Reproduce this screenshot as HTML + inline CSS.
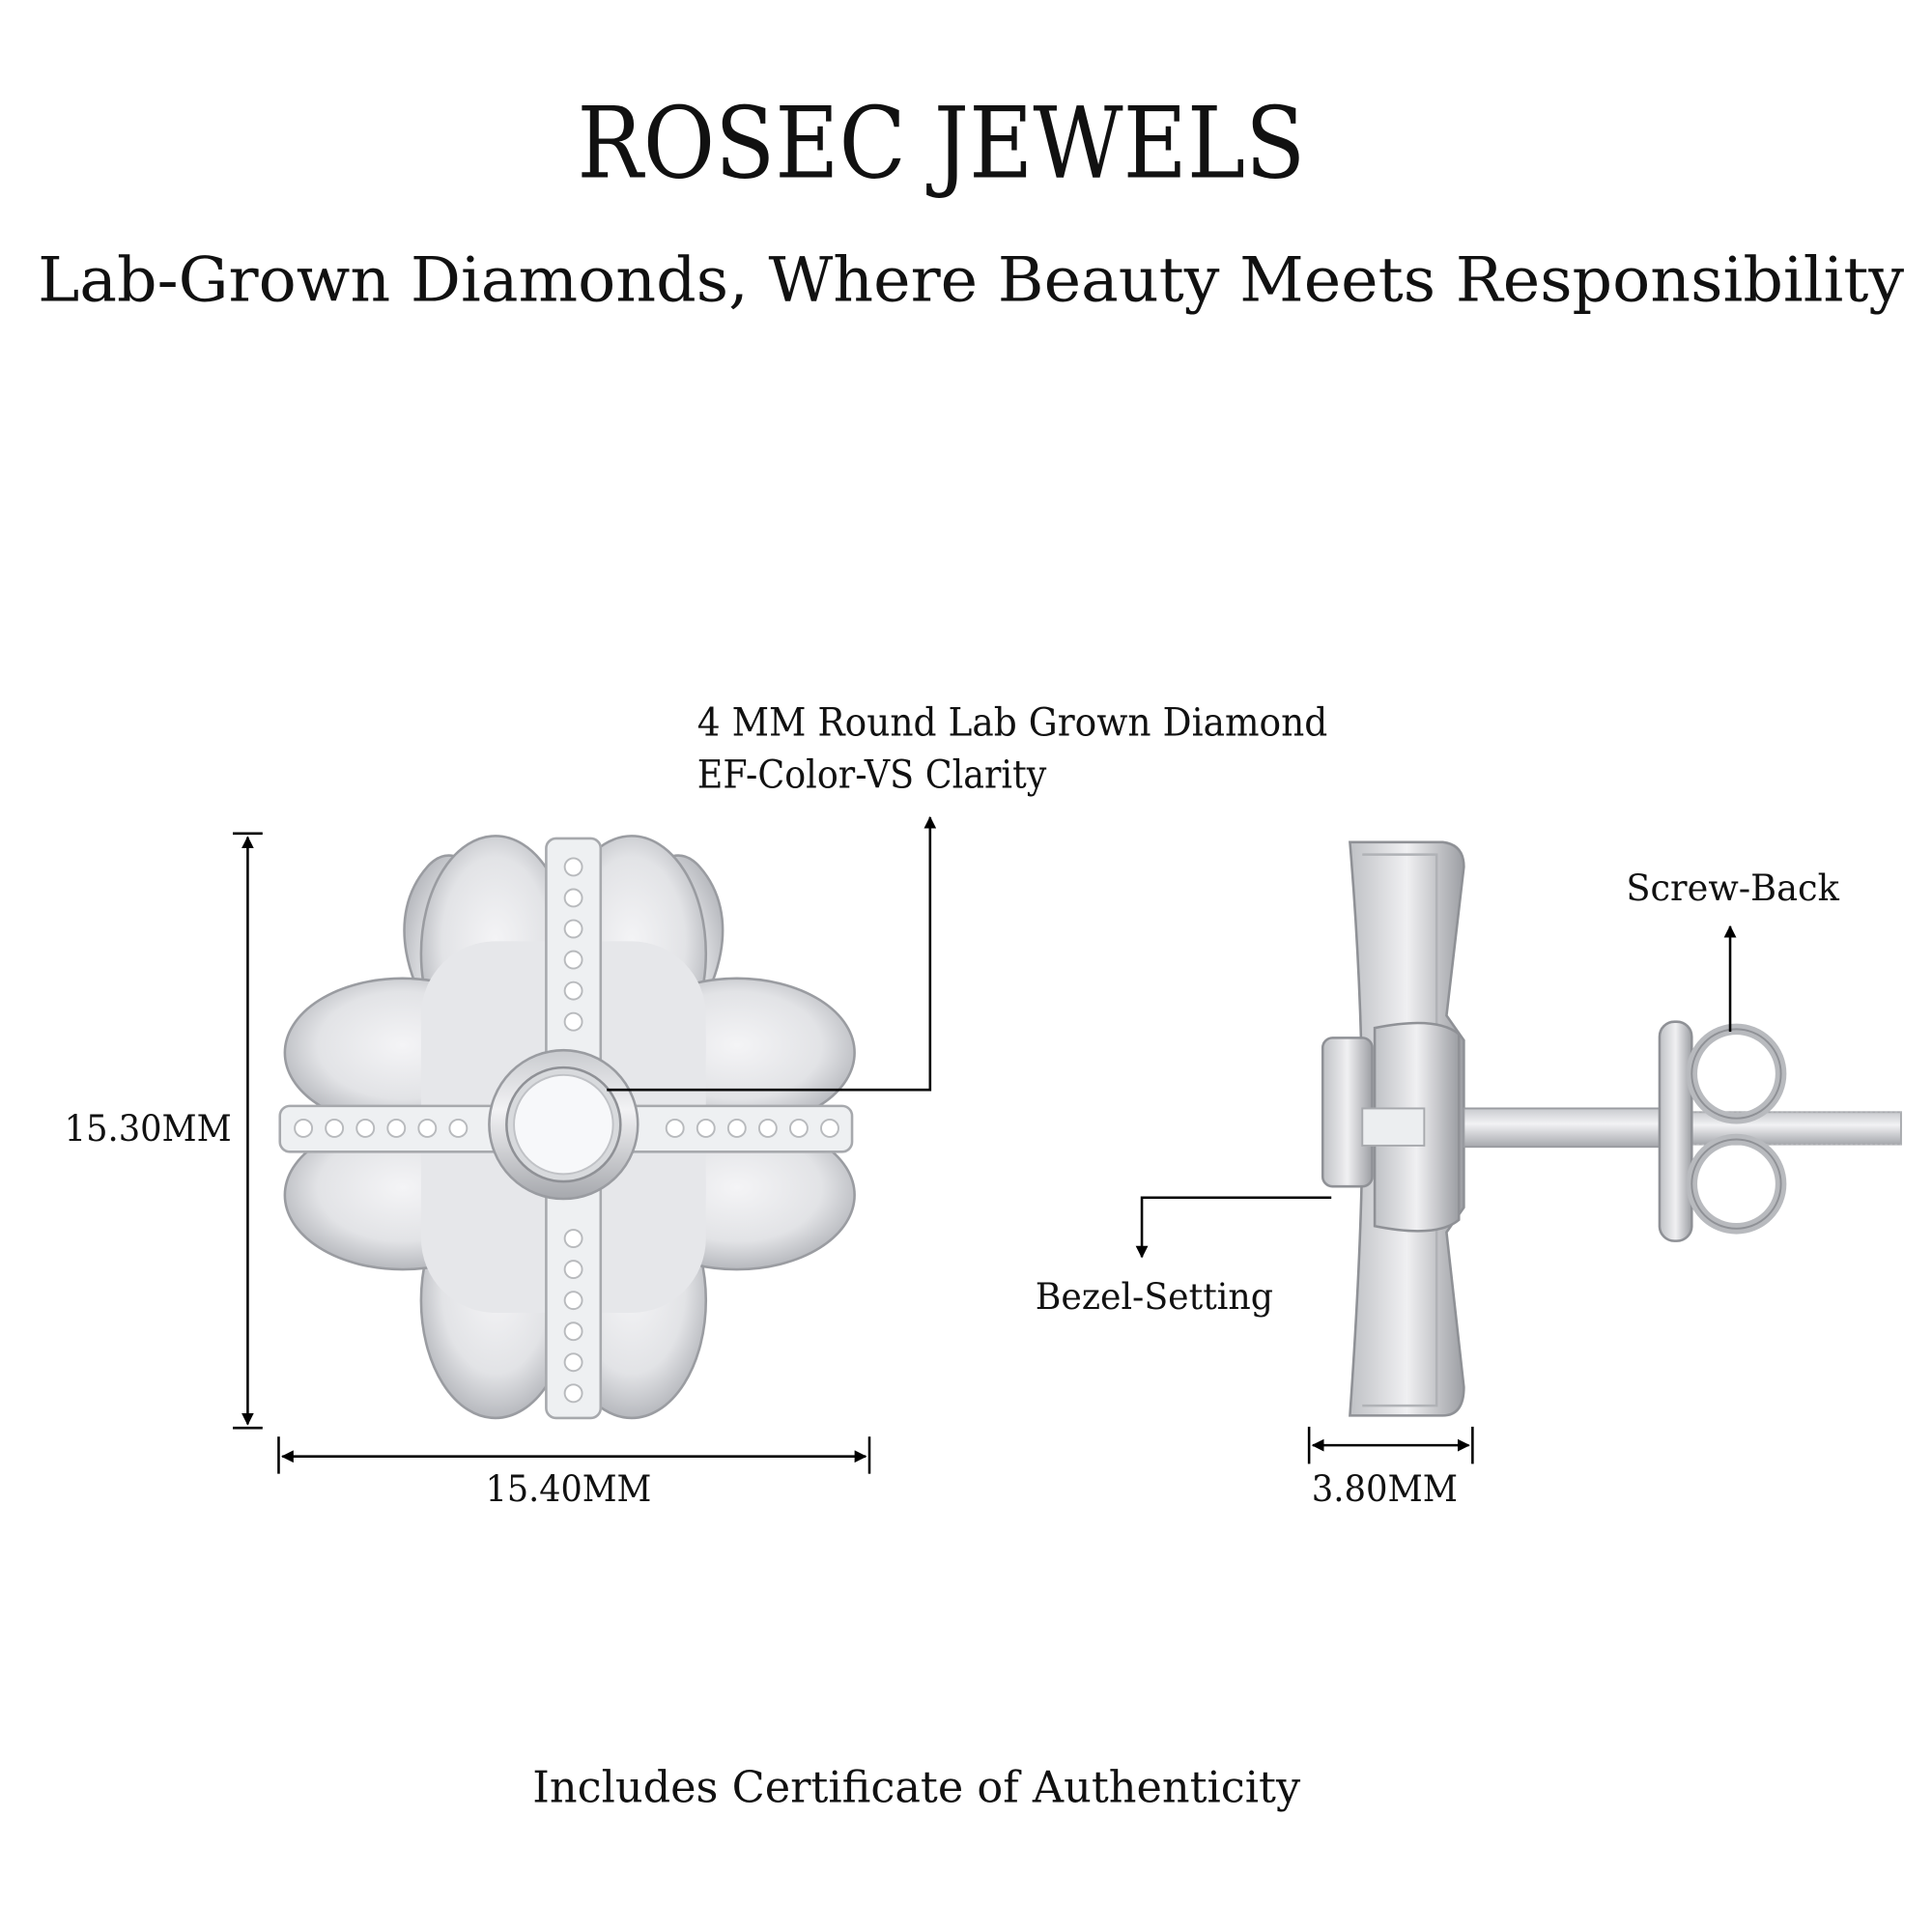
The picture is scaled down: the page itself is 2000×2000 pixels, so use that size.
<!DOCTYPE html>
<html><head><meta charset="utf-8"><style>
html,body{margin:0;padding:0;background:#fff;}
svg{display:block;}
text{font-family:"DejaVu Serif","Liberation Serif",serif;fill:#111;}
</style></head><body>
<svg width="2000" height="2000" viewBox="0 0 1560 1560" xmlns="http://www.w3.org/2000/svg">
<defs>
<radialGradient id="pet" cx="0.5" cy="0.45" r="0.6">
<stop offset="0" stop-color="#f4f4f6"/><stop offset="0.6" stop-color="#e2e3e6"/><stop offset="0.9" stop-color="#b9bbc0"/><stop offset="1" stop-color="#8e9096"/>
</radialGradient>
<linearGradient id="metal" x1="0" y1="0" x2="0" y2="1">
<stop offset="0" stop-color="#c9cbcf"/><stop offset="0.4" stop-color="#f2f2f4"/><stop offset="1" stop-color="#a6a8ad"/>
</linearGradient>
<linearGradient id="metalh" x1="0" y1="0" x2="1" y2="0">
<stop offset="0" stop-color="#bfc1c5"/><stop offset="0.5" stop-color="#f0f0f2"/><stop offset="1" stop-color="#9c9ea3"/>
</linearGradient>
<marker id="ah" viewBox="0 0 10 10" refX="9" refY="5" markerWidth="5" markerHeight="5" orient="auto-start-reverse"><path d="M0,0 L10,5 L0,10 z" fill="#000"/></marker>
</defs>
<rect width="1560" height="1560" fill="#fff"/>

<text x="760" y="143" font-size="80" text-anchor="middle" textLength="588" lengthAdjust="spacingAndGlyphs">ROSEC JEWELS</text>
<text x="784" y="243" font-size="50" text-anchor="middle" textLength="1507" lengthAdjust="spacingAndGlyphs">Lab-Grown Diamonds, Where Beauty Meets Responsibility</text>

<text x="563" y="594" font-size="31" textLength="509" lengthAdjust="spacingAndGlyphs">4 MM Round Lab Grown Diamond</text>
<text x="563" y="636" font-size="31" textLength="282" lengthAdjust="spacingAndGlyphs">EF-Color-VS Clarity</text>

<!-- flower front -->
<g stroke="#9a9ca1" stroke-width="2">
<path d="M455,800 C420,760 380,660 345,700 C310,740 330,800 360,835 L455,900 Z" fill="url(#pet)"/>
<path d="M455,800 C490,760 530,660 565,700 C600,740 580,800 550,835 L455,900 Z" fill="url(#pet)"/>
<ellipse cx="400" cy="770" rx="60" ry="95" fill="url(#pet)"/>
<ellipse cx="510" cy="770" rx="60" ry="95" fill="url(#pet)"/>
<ellipse cx="400" cy="1050" rx="60" ry="95" fill="url(#pet)"/>
<ellipse cx="510" cy="1050" rx="60" ry="95" fill="url(#pet)"/>
<ellipse cx="325" cy="850" rx="95" ry="60" fill="url(#pet)"/>
<ellipse cx="325" cy="965" rx="95" ry="60" fill="url(#pet)"/>
<ellipse cx="595" cy="850" rx="95" ry="60" fill="url(#pet)"/>
<ellipse cx="595" cy="965" rx="95" ry="60" fill="url(#pet)"/>
<rect x="340" y="760" width="230" height="300" rx="60" fill="#e6e7ea" stroke="none"/>
</g>
<path d="M455,690 L455,1130 M240,910 L680,910" stroke="#c8cacd" stroke-width="2"/>
<rect x="441" y="677" width="44" height="468" rx="8" fill="#eef0f2" stroke="#a7a9ad" stroke-width="2"/>
<rect x="226" y="893" width="462" height="37" rx="8" fill="#eef0f2" stroke="#a7a9ad" stroke-width="2"/>
<g fill="#fff" stroke="#b8babd" stroke-width="1.5">
<circle cx="463" cy="700" r="7"/><circle cx="463" cy="725" r="7"/><circle cx="463" cy="750" r="7"/><circle cx="463" cy="775" r="7"/><circle cx="463" cy="800" r="7"/><circle cx="463" cy="825" r="7"/>
<circle cx="463" cy="1000" r="7"/><circle cx="463" cy="1025" r="7"/><circle cx="463" cy="1050" r="7"/><circle cx="463" cy="1075" r="7"/><circle cx="463" cy="1100" r="7"/><circle cx="463" cy="1125" r="7"/>
<circle cx="245" cy="911" r="7"/><circle cx="270" cy="911" r="7"/><circle cx="295" cy="911" r="7"/><circle cx="320" cy="911" r="7"/><circle cx="345" cy="911" r="7"/><circle cx="370" cy="911" r="7"/>
<circle cx="545" cy="911" r="7"/><circle cx="570" cy="911" r="7"/><circle cx="595" cy="911" r="7"/><circle cx="620" cy="911" r="7"/><circle cx="645" cy="911" r="7"/><circle cx="670" cy="911" r="7"/>
</g>
<circle cx="455" cy="908" r="60" fill="url(#metal)" stroke="#9a9ca1" stroke-width="2"/>
<circle cx="455" cy="908" r="46" fill="#d8dadd" stroke="#8f9196" stroke-width="2"/>
<circle cx="455" cy="908" r="40" fill="#f7f8fa" stroke="#c0c2c6" stroke-width="1.5"/>

<!-- pointer to diamond -->
<polyline points="490,880 751,880 751,660" fill="none" stroke="#000" stroke-width="2" marker-end="url(#ah)"/>

<!-- height dim -->
<line x1="188" y1="673" x2="212" y2="673" stroke="#000" stroke-width="2"/>
<line x1="188" y1="1153" x2="212" y2="1153" stroke="#000" stroke-width="2"/>
<line x1="200" y1="676" x2="200" y2="1150" stroke="#000" stroke-width="2" marker-start="url(#ah)" marker-end="url(#ah)"/>
<text x="52" y="921" font-size="29" textLength="135" lengthAdjust="spacingAndGlyphs">15.30MM</text>
<!-- width dim -->
<line x1="225" y1="1160" x2="225" y2="1190" stroke="#000" stroke-width="2"/>
<line x1="702" y1="1160" x2="702" y2="1190" stroke="#000" stroke-width="2"/>
<line x1="228" y1="1176" x2="699" y2="1176" stroke="#000" stroke-width="2" marker-start="url(#ah)" marker-end="url(#ah)"/>
<text x="392" y="1212" font-size="29" textLength="134" lengthAdjust="spacingAndGlyphs">15.40MM</text>

<!-- side view -->
<path d="M1090,680 L1165,680 Q1182,682 1182,700 L1168,820 L1182,840 L1182,975 L1168,995 L1182,1120 Q1182,1143 1165,1143 L1090,1143 Q1100,1000 1100,910 Q1100,800 1090,680 Z" fill="url(#metalh)" stroke="#8f9196" stroke-width="2"/>
<path d="M1100,690 L1160,690 L1160,1135 L1100,1135" fill="none" stroke="#b0b2b6" stroke-width="2"/>
<path d="M1110,830 Q1160,820 1178,835 L1178,985 Q1160,1000 1110,990 Z" fill="url(#metalh)" stroke="#8f9196" stroke-width="2"/>
<rect x="1068" y="838" width="40" height="120" rx="8" fill="url(#metalh)" stroke="#8f9196" stroke-width="2"/>
<rect x="1100" y="895" width="50" height="30" fill="#eceef0" stroke="#a7a9ad" stroke-width="1.5"/>
<rect x="1182" y="895" width="160" height="31" fill="url(#metal)" stroke="#9a9ca1" stroke-width="1.5"/>
<rect x="1345" y="898" width="190" height="26" fill="url(#metal)" stroke="#a8aaae" stroke-width="1.5"/>
<path d="M1350,898 L1535,898 M1350,924 L1535,924" stroke="#b4b6ba" stroke-width="1" stroke-dasharray="2 2"/>
<rect x="1340" y="825" width="26" height="177" rx="12" fill="url(#metalh)" stroke="#8f9196" stroke-width="2"/>
<circle cx="1402" cy="867" r="36" fill="none" stroke="#b8babe" stroke-width="9"/>
<circle cx="1402" cy="956" r="36" fill="none" stroke="#b8babe" stroke-width="9"/>
<circle cx="1402" cy="867" r="36" fill="none" stroke="#8f9196" stroke-width="1.5"/>
<circle cx="1402" cy="956" r="36" fill="none" stroke="#8f9196" stroke-width="1.5"/>

<text x="1313" y="727" font-size="29" textLength="172" lengthAdjust="spacingAndGlyphs">Screw-Back</text>
<line x1="1397" y1="833" x2="1397" y2="748" stroke="#000" stroke-width="2" marker-end="url(#ah)"/>

<polyline points="1075,967 922,967 922,1015" fill="none" stroke="#000" stroke-width="2" marker-end="url(#ah)"/>
<text x="836" y="1057" font-size="29" textLength="192" lengthAdjust="spacingAndGlyphs">Bezel-Setting</text>

<line x1="1057" y1="1152" x2="1057" y2="1182" stroke="#000" stroke-width="2"/>
<line x1="1189" y1="1152" x2="1189" y2="1182" stroke="#000" stroke-width="2"/>
<line x1="1060" y1="1167" x2="1186" y2="1167" stroke="#000" stroke-width="2" marker-start="url(#ah)" marker-end="url(#ah)"/>
<text x="1059" y="1212" font-size="29" textLength="118" lengthAdjust="spacingAndGlyphs">3.80MM</text>

<text x="430" y="1455" font-size="35" textLength="620" lengthAdjust="spacingAndGlyphs">Includes Certificate of Authenticity</text>
</svg>
</body></html>
